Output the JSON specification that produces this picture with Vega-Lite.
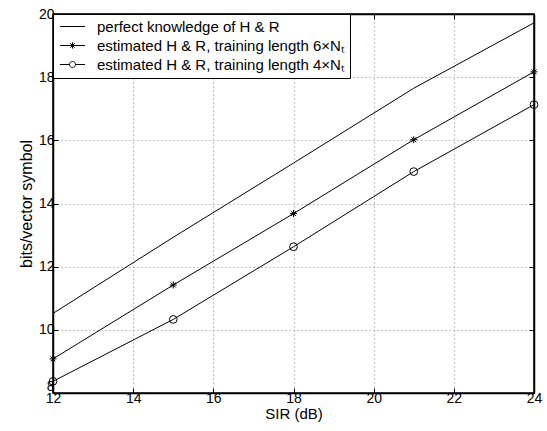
{
  "$schema": "https://vega.github.io/schema/vega-lite/v6.json",
  "width": 481,
  "height": 379,
  "autosize": {"type": "none"},
  "padding": {"left": 53, "top": 14, "right": 13, "bottom": 38},
  "background": "white",
  "config": {
    "view": {"stroke": "#000", "strokeWidth": 1.5},
    "font": "Liberation Sans",
    "axis": {
      "labelFont": "Liberation Sans",
      "labelFontSize": 14,
      "labelColor": "#000",
      "labelFlush": false,
      "titleFont": "Liberation Sans",
      "titleFontSize": 15,
      "titleFontWeight": "normal",
      "titleColor": "#000",
      "tickColor": "#000",
      "tickSize": -5,
      "domainColor": "#000",
      "domainWidth": 1.5,
      "gridColor": "#888",
      "gridDash": [1, 3],
      "gridOpacity": 1
    },
    "legend": {
      "labelFont": "Liberation Sans",
      "labelFontSize": 15,
      "labelColor": "#000"
    }
  },
  "data": {
    "values": [
      {"sir": 12, "bits": 10.52, "series": "perfect knowledge of H & R"},
      {"sir": 15, "bits": 12.93, "series": "perfect knowledge of H & R"},
      {"sir": 18, "bits": 15.28, "series": "perfect knowledge of H & R"},
      {"sir": 21, "bits": 17.65, "series": "perfect knowledge of H & R"},
      {"sir": 24, "bits": 19.72, "series": "perfect knowledge of H & R"},
      {"sir": 12, "bits": 9.08, "series": "estimated H & R, training length 6×Nₜ"},
      {"sir": 15, "bits": 11.42, "series": "estimated H & R, training length 6×Nₜ"},
      {"sir": 18, "bits": 13.68, "series": "estimated H & R, training length 6×Nₜ"},
      {"sir": 21, "bits": 16.02, "series": "estimated H & R, training length 6×Nₜ"},
      {"sir": 24, "bits": 18.17, "series": "estimated H & R, training length 6×Nₜ"},
      {"sir": 12, "bits": 8.37, "series": "estimated H & R, training length 4×Nₜ"},
      {"sir": 15, "bits": 10.33, "series": "estimated H & R, training length 4×Nₜ"},
      {"sir": 18, "bits": 12.63, "series": "estimated H & R, training length 4×Nₜ"},
      {"sir": 21, "bits": 15.01, "series": "estimated H & R, training length 4×Nₜ"},
      {"sir": 24, "bits": 17.13, "series": "estimated H & R, training length 4×Nₜ"}
    ]
  },
  "layer": [
    {
      "mark": {"type": "line", "color": "#000", "strokeWidth": 1},
      "encoding": {
        "x": {
          "field": "sir", "type": "quantitative",
          "scale": {"domain": [12, 24], "nice": false, "zero": false},
          "axis": {"orient": "bottom", "values": [12, 14, 16, 18, 20, 22, 24], "title": "SIR (dB)", "grid": true, "labelPadding": 3, "titlePadding": 1}
        },
        "y": {
          "field": "bits", "type": "quantitative",
          "scale": {"domain": [8, 20], "nice": false, "zero": false},
          "axis": {
            "orient": "left", "values": [8, 10, 12, 14, 16, 18, 20], "title": "bits/vector symbol", "titleFontSize": 16, "grid": true, "labelPadding": 4, "titlePadding": 4,
            "labelOffset": {"condition": {"test": "datum.value === 8", "value": -7}, "value": 0}
          }
        },
        "detail": {"field": "series"}
      }
    },
    {
      "transform": [{"filter": "datum.series !== 'perfect knowledge of H & R'"}],
      "mark": {"type": "point", "filled": false, "color": "#000", "strokeWidth": 1, "size": 60, "opacity": 1},
      "encoding": {
        "x": {
          "field": "sir", "type": "quantitative",
          "axis": {"orient": "top", "values": [12, 14, 16, 18, 20, 22, 24], "labels": false, "title": null, "grid": false}
        },
        "y": {
          "field": "bits", "type": "quantitative",
          "axis": {"orient": "right", "values": [8, 10, 12, 14, 16, 18, 20], "labels": false, "title": null, "grid": false}
        },
        "shape": {
          "field": "series", "type": "nominal",
          "scale": {
            "domain": ["perfect knowledge of H & R", "estimated H & R, training length 6×Nₜ", "estimated H & R, training length 4×Nₜ"],
            "range": ["M-1,0H1", "M-0.9,0H0.9M0,-0.9V0.9M-0.64,-0.64L0.64,0.64M-0.64,0.64L0.64,-0.64", "circle"]
          },
          "legend": null
        }
      }
    },
    {
      "mark": {"type": "point", "filled": false, "color": "#000", "strokeWidth": 1, "size": 49, "opacity": 0},
      "encoding": {
        "x": {"field": "sir", "type": "quantitative", "axis": null},
        "y": {"field": "bits", "type": "quantitative", "axis": null},
        "shape": {
          "field": "series", "type": "nominal",
          "scale": {
            "domain": ["perfect knowledge of H & R", "estimated H & R, training length 6×Nₜ", "estimated H & R, training length 4×Nₜ"],
            "range": [
              "M-3.57,0H3.57",
              "M-3.57,0H3.57M0,-0.9V0.9M-0.64,-0.64L0.64,0.64M-0.64,0.64L0.64,-0.64",
              "M-3.57,0H-0.86A0.86,0.86 0 1,1 0.86,0A0.86,0.86 0 1,1 -0.86,0M0.86,0H3.57"
            ]
          },
          "legend": {
            "title": null,
            "orient": "top-left",
            "offset": 0,
            "padding": 5,
            "strokeColor": "#000",
            "fillColor": "#fff",
            "cornerRadius": 0,
            "symbolSize": 49,
            "symbolOffset": 7,
            "labelOffset": 17,
            "rowPadding": 3,
            "labelLimit": 400,
            "symbolOpacity": 1,
            "symbolStrokeColor": "#000",
            "symbolFillColor": "transparent",
            "symbolStrokeWidth": 1
          }
        }
      }
    }
  ],
  "resolve": {"axis": {"x": "independent", "y": "independent"}, "scale": {"shape": "independent"}}
}
